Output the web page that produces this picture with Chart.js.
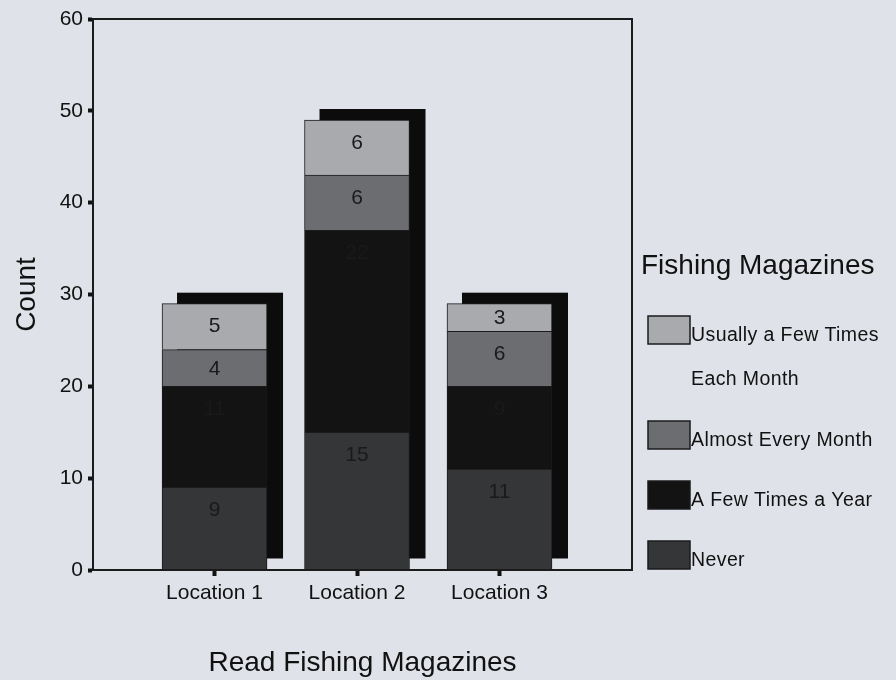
<!DOCTYPE html>
<html><head><meta charset="utf-8">
<script src="https://cdn.jsdelivr.net/npm/chart.js@4/dist/chart.umd.min.js"></script>
<style>html,body{margin:0;padding:0;background:#dfe2e8;overflow:hidden}#wrap{width:896px;height:680px}</style>
</head><body><div id="wrap"><canvas id="c" width="896" height="680"></canvas></div>
<script>
const categories = ['Location 1', 'Location 2', 'Location 3'];
const seriesNames = ['Never', 'A Few Times a Year', 'Almost Every Month', 'Usually a Few Times Each Month'];
const never = [9, 15, 11];
const fewTimesYear = [11, 22, 9];
const almostEveryMonth = [4, 6, 6];
const usuallyFewTimesMonth = [5, 6, 3];
const yTicks = [0, 10, 20, 30, 40, 50, 60];
const seriesColors = ['#353638', '#131314', '#6c6d70', '#a9aaad'];
const seriesValues = [never, fewTimesYear, almostEveryMonth, usuallyFewTimesMonth];

const FONT = "'Liberation Sans', Arial, sans-serif";
Chart.defaults.font.family = FONT;
Chart.defaults.color = '#111';

const datasets = seriesValues.map((vals, s) => ({
  label: seriesNames[s],
  data: vals.map((v, i) => ({x: i, y: v})),
  backgroundColor: seriesColors[s],
  borderColor: '#1b1b1c',
  borderWidth: 1,
  barThickness: 105
}));

const bgPlugin = {
  id: 'bg',
  beforeDraw(chart) {
    const ctx = chart.ctx;
    ctx.save();
    ctx.fillStyle = '#dfe2e8';
    ctx.fillRect(0, 0, chart.width, chart.height);
    ctx.restore();
  }
};

const shadowPlugin = {
  id: 'shadow',
  beforeDatasetsDraw(chart) {
    const ctx = chart.ctx;
    const first = chart.getDatasetMeta(0).data;
    const last = chart.getDatasetMeta(chart.data.datasets.length - 1).data;
    ctx.save();
    ctx.fillStyle = '#0c0c0d';
    for (let i = 0; i < last.length; i++) {
      const top = last[i].y, base = first[i].base, x = last[i].x, w = last[i].width;
      ctx.fillRect(x - w / 2 + 15, top - 11, w + 1, base - top);
    }
    ctx.restore();
  }
};

const labelPlugin = {
  id: 'vlabels',
  afterDatasetsDraw(chart) {
    const ctx = chart.ctx;
    ctx.save();
    ctx.font = '21px ' + FONT;
    ctx.textAlign = 'center';
    ctx.textBaseline = 'middle';
    ctx.fillStyle = '#1a1a1a';
    chart.data.datasets.forEach((ds, s) => {
      chart.getDatasetMeta(s).data.forEach((el, i) => {
        const y = Math.min(el.y + 22, (el.y + el.base) / 2);
        ctx.fillText(String(seriesValues[s][i]), el.x, y + 1);
      });
    });
    ctx.restore();
  }
};

const framePlugin = {
  id: 'frame',
  afterDraw(chart) {
    const a = chart.chartArea, ctx = chart.ctx;
    ctx.save();
    ctx.strokeStyle = '#1b1b1c';
    ctx.lineWidth = 2;
    ctx.strokeRect(a.left, a.top, a.right - a.left, a.bottom - a.top);
    ctx.restore();
  }
};

const legendPlugin = {
  id: 'customLegend',
  afterDraw(chart) {
    const ctx = chart.ctx, a = chart.chartArea;
    ctx.save();
    ctx.fillStyle = '#111';
    ctx.textBaseline = 'middle';
    ctx.textAlign = 'left';
    ctx.font = '28px ' + FONT;
    const x0 = a.right + 9;
    ctx.fillText('Fishing Magazines', x0, 266);
    ctx.font = '19.5px ' + FONT;
    ctx.letterSpacing = '0.4px';
    let y = 316;
    for (let s = seriesNames.length - 1; s >= 0; s--) {
      const bx = x0 + 7;
      ctx.fillStyle = seriesColors[s];
      ctx.fillRect(bx, y, 42, 28);
      ctx.strokeStyle = '#1b1b1c';
      ctx.lineWidth = 1.5;
      ctx.strokeRect(bx, y, 42, 28);
      const words = seriesNames[s].split(' ');
      const lines = [];
      let cur = '';
      words.forEach(w => {
        const t = cur ? cur + ' ' + w : w;
        if (ctx.measureText(t).width > 205 && cur) { lines.push(cur); cur = w; } else cur = t;
      });
      lines.push(cur);
      ctx.fillStyle = '#111';
      lines.forEach((ln, k) => ctx.fillText(ln, bx + 43, y + 20 + k * 44));
      y += 60 + (lines.length - 1) * 45;
    }
    ctx.restore();
  }
};

new Chart(document.getElementById('c'), {
  type: 'bar',
  data: {datasets},
  options: {
    responsive: false,
    animation: false,
    devicePixelRatio: 1,
    layout: {padding: {top: 19, right: 264, left: 0, bottom: 0}},
    plugins: {legend: {display: false}, tooltip: {enabled: false}},
    scales: {
      x: {
        type: 'linear',
        stacked: true,
        offset: false,
        min: -0.853,
        max: 2.93,
        afterBuildTicks(scale) { scale.ticks = categories.map((c, i) => ({value: i})); },
        afterFit(scale) { scale.height = 110; },
        ticks: {
          callback: (v) => categories[v] !== undefined ? categories[v] : '',
          font: {size: 21},
          color: '#111',
          padding: 5,
          maxRotation: 0,
          autoSkip: false
        },
        grid: {offset: false, drawOnChartArea: false, tickLength: 6, tickWidth: 4, tickColor: '#111'},
        border: {display: true, color: '#1b1b1c', width: 2},
        title: {display: true, text: 'Read Fishing Magazines', font: {size: 28}, color: '#111', padding: {top: 0, bottom: 0}}
      },
      y: {
        stacked: true,
        min: 0,
        max: 60,
        afterBuildTicks(scale) { scale.ticks = yTicks.map(v => ({value: v})); },
        afterFit(scale) { scale.width = 93; },
        ticks: {font: {size: 21}, color: '#111', padding: 5},
        grid: {drawOnChartArea: false, tickLength: 5, tickWidth: 4, tickColor: '#111'},
        border: {display: true, color: '#1b1b1c', width: 2},
        title: {display: true, text: 'Count', font: {size: 28}, color: '#111', padding: {top: 10, bottom: 0}}
      }
    }
  },
  plugins: [bgPlugin, shadowPlugin, labelPlugin, framePlugin, legendPlugin]
});
</script>
</body></html>
